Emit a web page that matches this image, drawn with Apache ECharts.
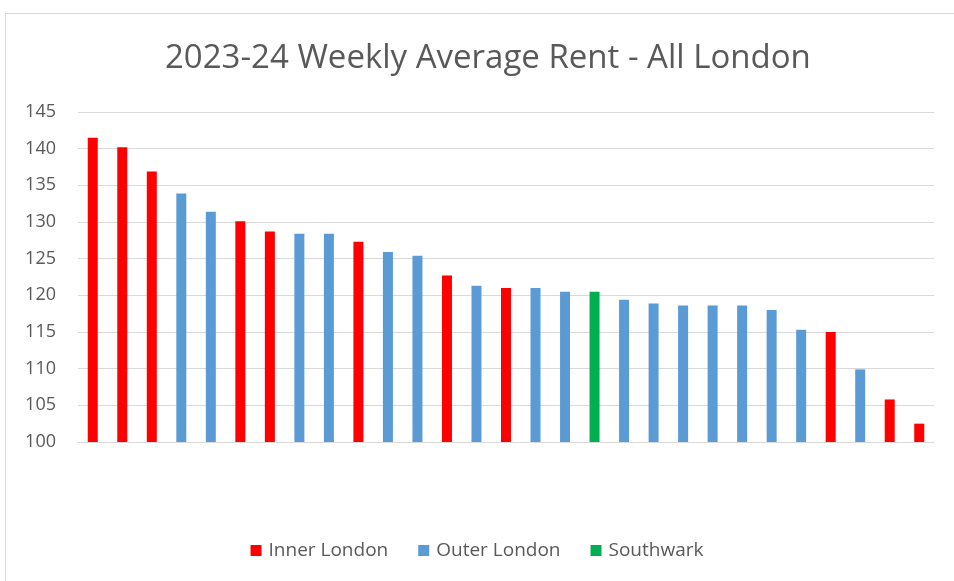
<!DOCTYPE html>
<html>
<head>
<meta charset="utf-8">
<title>2023-24 Weekly Average Rent - All London</title>
<script src="https://cdn.jsdelivr.net/npm/echarts@6/dist/echarts.min.js"></script>
<style>
  html, body { margin: 0; padding: 0; background: #fff; }
  #chart { width: 954px; height: 581px; }
</style>
</head>
<body>
<div id="chart"></div>
<script>
// one bar per borough, ranked by rent (names not shown on the chart)
const ranks = ['1', '2', '3', '4', '5', '6', '7', '8', '9', '10', '11', '12', '13', '14', '15',
  '16', '17', '18', '19', '20', '21', '22', '23', '24', '25', '26', '27', '28', '29'];

// group of each bar: I = Inner London, O = Outer London, S = Southwark
const groups = ['I', 'I', 'I', 'O', 'O', 'I', 'I', 'O', 'O', 'I', 'O', 'O', 'I', 'O', 'I',
  'O', 'O', 'S', 'O', 'O', 'O', 'O', 'O', 'O', 'O', 'I', 'O', 'I', 'I'];

const rents = [141.5, 140.2, 136.9, 133.9, 131.4, 130.1, 128.7, 128.4, 128.4, 127.3, 125.9, 125.4,
  122.7, 121.3, 121.0, 121.0, 120.5, 120.5, 119.4, 118.9, 118.6, 118.6, 118.6, 118.0,
  115.3, 115.0, 109.9, 105.8, 102.5];

const yTicks = [100, 105, 110, 115, 120, 125, 130, 135, 140, 145];

const seriesDefs = [
  { key: 'I', name: 'Inner London', color: '#ff0000' },
  { key: 'O', name: 'Outer London', color: '#5b9bd5' },
  { key: 'S', name: 'Southwark', color: '#00b050' }
];

const chart = echarts.init(document.getElementById('chart'));

const option = {
  animation: false,
  backgroundColor: '#fff',
  textStyle: { fontFamily: 'Open Sans' },
  title: {
    text: '2023-24 Weekly Average Rent - All London',
    left: 160,
    top: 37,
    textStyle: { fontSize: 33, fontWeight: 'normal', color: '#595959', fontFamily: 'Open Sans' }
  },
  graphic: [{
    type: 'rect',
    shape: { x: 5.5, y: 13.5, width: 1000, height: 700 },
    style: { fill: 'none', stroke: '#d9d9d9', lineWidth: 1 },
    silent: true
  }],
  legend: {
    bottom: 16,
    left: 'center',
    itemWidth: 11,
    itemHeight: 11,
    itemGap: 30,
    icon: 'rect',
    textStyle: { fontSize: 19, color: '#595959', padding: [0, 0, 0, 2] },
    data: seriesDefs.map(d => d.name)
  },
  grid: { left: 78, right: 20, top: 112, bottom: 139 },
  xAxis: {
    type: 'category',
    data: ranks,
    axisLine: { show: true, lineStyle: { color: '#d9d9d9' } },
    axisTick: { show: false },
    axisLabel: { show: false }
  },
  yAxis: {
    type: 'value',
    min: yTicks[0],
    max: yTicks[yTicks.length - 1],
    interval: 5,
    axisLine: { show: false },
    axisTick: { show: false },
    axisLabel: { fontSize: 18, color: '#595959', margin: 22 },
    splitLine: { lineStyle: { color: '#d9d9d9' } }
  },
  series: seriesDefs.map(d => ({
    name: d.name,
    type: 'bar',
    stack: 'all',
    barWidth: 10,
    itemStyle: { color: d.color },
    data: rents.map((v, i) => (groups[i] === d.key ? v : null))
  }))
};

chart.setOption(option);
</script>
</body>
</html>
